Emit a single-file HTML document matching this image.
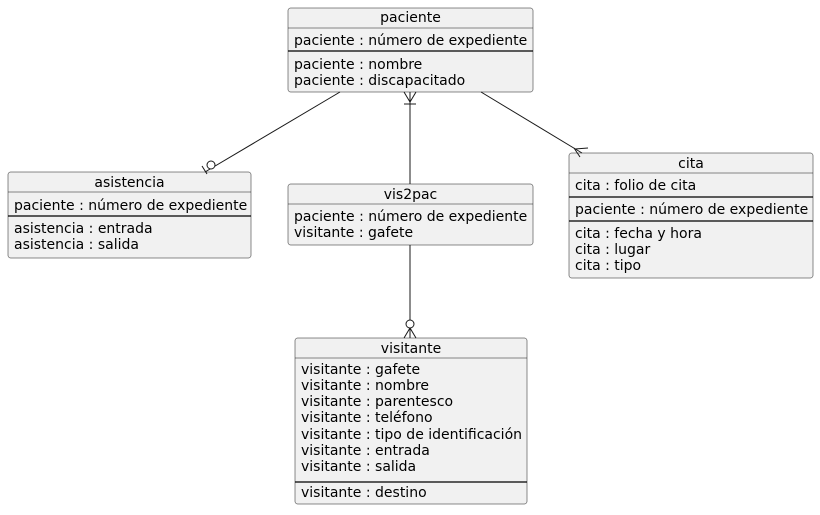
<!DOCTYPE html>
<html><head><meta charset="utf-8"><style>
body{margin:0;background:#fff}
svg text{font-family:"DejaVu Sans","Liberation Sans",sans-serif;font-size:14px;fill:#000}
</style></head><body>
<svg width="820" height="510" viewBox="0 0 820 510" xmlns="http://www.w3.org/2000/svg">
<g fill="#F1F1F1" stroke="#181818" stroke-width="0.5">
<rect x="288" y="8" width="245" height="84" rx="2.5"/>
<rect x="8" y="172" width="243" height="86" rx="2.5"/>
<rect x="288" y="184" width="245" height="61" rx="2.5"/>
<rect x="569" y="153" width="244" height="125" rx="2.5"/>
<rect x="295" y="338" width="232" height="166" rx="2.5"/>
</g>
<g stroke="#181818" stroke-width="0.5">
<line x1="288" y1="28" x2="533" y2="28"/>
<line x1="8" y1="192" x2="251" y2="192"/>
<line x1="288" y1="204" x2="533" y2="204"/>
<line x1="569" y1="173" x2="813" y2="173"/>
<line x1="295" y1="358" x2="527" y2="358"/>
</g>
<g stroke="#000" stroke-width="1.2">
<line x1="288" y1="51" x2="533" y2="51"/>
<line x1="8" y1="216" x2="251" y2="216"/>
<line x1="569" y1="197" x2="813" y2="197"/>
<line x1="569" y1="221" x2="813" y2="221"/>
<line x1="295" y1="482" x2="527" y2="482"/>
</g>
<text x="410.5" y="22" text-anchor="middle">paciente</text>
<text x="294" y="45">paciente : número de expediente</text>
<text x="294" y="69">paciente : nombre</text>
<text x="294" y="85">paciente : discapacitado</text>
<text x="129.5" y="187" text-anchor="middle">asistencia</text>
<text x="14" y="210">paciente : número de expediente</text>
<text x="14" y="233">asistencia : entrada</text>
<text x="14" y="249">asistencia : salida</text>
<text x="410.5" y="199" text-anchor="middle">vis2pac</text>
<text x="294" y="221">paciente : número de expediente</text>
<text x="294" y="237">visitante : gafete</text>
<text x="691" y="168" text-anchor="middle">cita</text>
<text x="575" y="190">cita : folio de cita</text>
<text x="575" y="214">paciente : número de expediente</text>
<text x="575" y="238">cita : fecha y hora</text>
<text x="575" y="254">cita : lugar</text>
<text x="575" y="270">cita : tipo</text>
<text x="411" y="353" text-anchor="middle">visitante</text>
<text x="301" y="374">visitante : gafete</text>
<text x="301" y="390">visitante : nombre</text>
<text x="301" y="406">visitante : parentesco</text>
<text x="301" y="422">visitante : teléfono</text>
<text x="301" y="439">visitante : tipo de identificación</text>
<text x="301" y="455">visitante : entrada</text>
<text x="301" y="471">visitante : salida</text>
<text x="301" y="497">visitante : destino</text>
<g stroke="#181818" stroke-width="1" fill="none">
<line x1="340" y1="92" x2="205" y2="172"/>
<line x1="202" y1="166" x2="207" y2="174"/>
<circle cx="211" cy="165" r="4" fill="#fff"/>
<line x1="410" y1="92" x2="410" y2="184"/>
<polyline points="404,92 410,102 416,92"/>
<line x1="404" y1="104" x2="416" y2="104"/>
<line x1="481" y1="92" x2="582" y2="153"/>
<line x1="575" y1="149" x2="588" y2="148"/>
<line x1="574" y1="148" x2="580" y2="157"/>
<line x1="410" y1="245" x2="410" y2="338"/>
<polyline points="404,338 410,328 416,338"/>
<circle cx="410" cy="324" r="4" fill="#fff"/>
</g>
</svg>
</body></html>
